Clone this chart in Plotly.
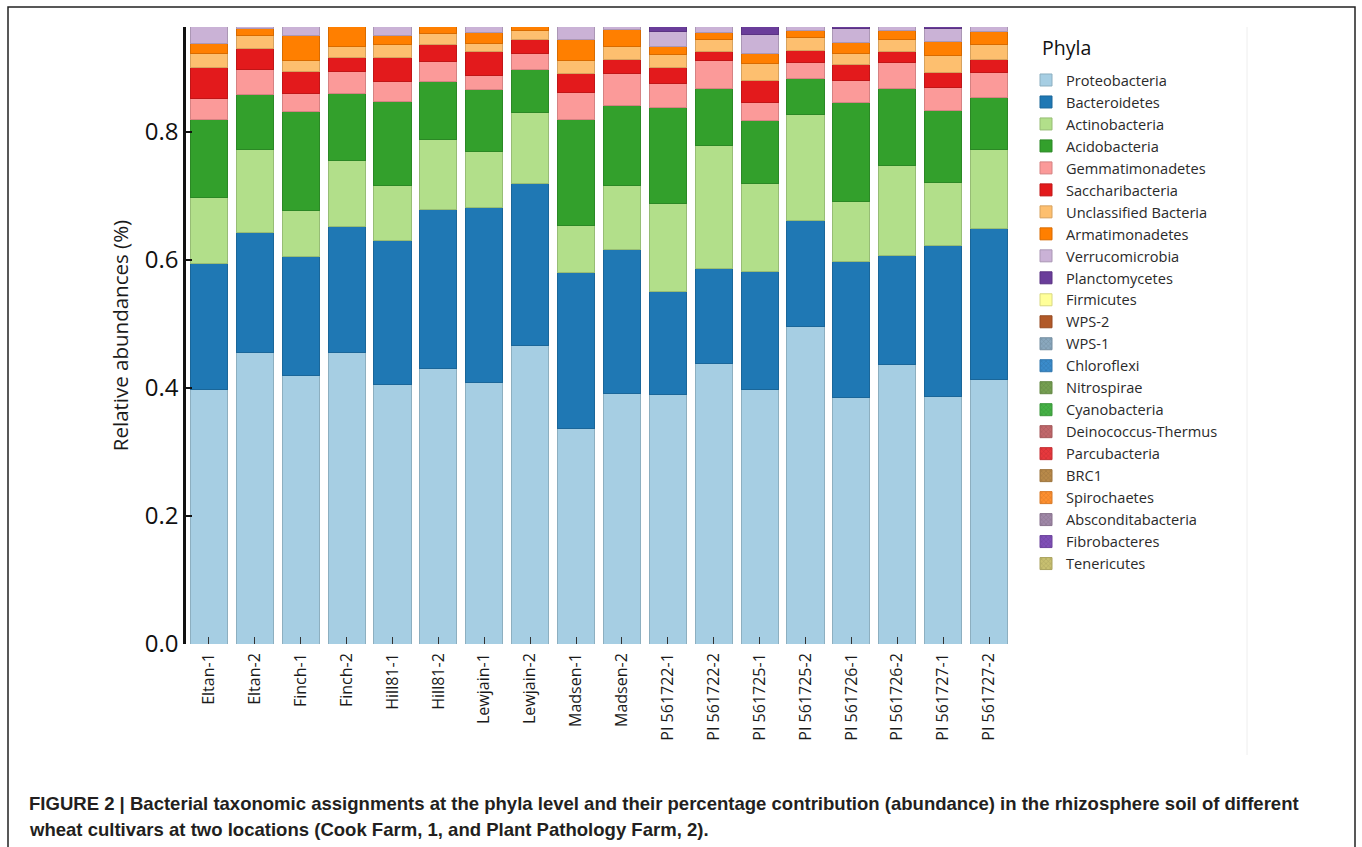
import plotly.graph_objects as go

# Samples: wheat cultivar, location (1 = Cook Farm, 2 = Plant Pathology Farm)
samples = ["Eltan-1", "Eltan-2", "Finch-1", "Finch-2", "Hill81-1", "Hill81-2",
           "Lewjain-1", "Lewjain-2", "Madsen-1", "Madsen-2",
           "PI 561722-1", "PI 561722-2", "PI 561725-1", "PI 561725-2",
           "PI 561726-1", "PI 561726-2", "PI 561727-1", "PI 561727-2"]

# Relative abundance of each phylum per sample
proteobacteria = [0.398, 0.456, 0.419, 0.455, 0.406, 0.430, 0.409, 0.466, 0.336,
                  0.392, 0.390, 0.439, 0.397, 0.496, 0.385, 0.436, 0.386, 0.414]
bacteroidetes = [0.197, 0.187, 0.186, 0.198, 0.225, 0.249, 0.273, 0.253, 0.244,
                 0.225, 0.160, 0.148, 0.185, 0.165, 0.212, 0.171, 0.236, 0.235]
actinobacteria = [0.103, 0.130, 0.073, 0.102, 0.085, 0.110, 0.088, 0.112, 0.074,
                  0.099, 0.139, 0.192, 0.137, 0.166, 0.095, 0.140, 0.099, 0.123]
acidobacteria = [0.122, 0.085, 0.154, 0.105, 0.131, 0.090, 0.096, 0.067, 0.166,
                 0.125, 0.150, 0.089, 0.099, 0.057, 0.154, 0.121, 0.112, 0.082]
gemmatimonadetes = [0.033, 0.039, 0.028, 0.034, 0.032, 0.031, 0.023, 0.025, 0.042,
                    0.051, 0.036, 0.043, 0.028, 0.024, 0.034, 0.040, 0.036, 0.039]
saccharibacteria = [0.047, 0.034, 0.034, 0.023, 0.037, 0.027, 0.036, 0.022, 0.030,
                    0.022, 0.025, 0.014, 0.034, 0.020, 0.025, 0.017, 0.024, 0.021]
unclassified_bacteria = [0.023, 0.019, 0.017, 0.017, 0.020, 0.017, 0.014, 0.014, 0.019,
                         0.020, 0.021, 0.020, 0.027, 0.020, 0.018, 0.020, 0.026, 0.023]
armatimonadetes = [0.016, 0.011, 0.039, 0.031, 0.014, 0.012, 0.016, 0.008, 0.034,
                   0.026, 0.012, 0.010, 0.016, 0.010, 0.017, 0.013, 0.022, 0.020]
verrucomicrobia = [0.028, 0.006, 0.018, 0.004, 0.018, 0.003, 0.013, 0.002, 0.023,
                   0.008, 0.024, 0.012, 0.029, 0.010, 0.022, 0.010, 0.021, 0.010]
planctomycetes = [0.002, 0.001, 0.001, 0.001, 0.001, 0.001, 0.001, 0.001, 0.001,
                  0.001, 0.012, 0.001, 0.015, 0.001, 0.004, 0.001, 0.003, 0.001]
firmicutes = [0.004, 0.003, 0.004, 0.003, 0.004, 0.003, 0.003, 0.003, 0.004,
              0.003, 0.004, 0.003, 0.004, 0.003, 0.004, 0.003, 0.004, 0.003]
wps_2 = [0.003, 0.004, 0.003, 0.003, 0.003, 0.003, 0.003, 0.002, 0.003,
         0.004, 0.003, 0.003, 0.003, 0.002, 0.003, 0.003, 0.003, 0.003]
wps_1 = [0.003, 0.003, 0.002, 0.003, 0.003, 0.002, 0.003, 0.002, 0.003,
         0.003, 0.002, 0.003, 0.002, 0.002, 0.003, 0.003, 0.003, 0.003]
chloroflexi = [0.003, 0.002, 0.003, 0.002, 0.003, 0.002, 0.003, 0.002, 0.003,
               0.002, 0.003, 0.002, 0.003, 0.002, 0.003, 0.002, 0.003, 0.002]
nitrospirae = [0.002, 0.002, 0.002, 0.002, 0.002, 0.002, 0.002, 0.002, 0.002,
               0.002, 0.002, 0.002, 0.002, 0.002, 0.002, 0.002, 0.002, 0.002]
cyanobacteria = [0.002, 0.002, 0.001, 0.002, 0.002, 0.001, 0.002, 0.001, 0.002,
                 0.002, 0.001, 0.002, 0.001, 0.001, 0.002, 0.002, 0.002, 0.002]
deinococcus_thermus = [0.001, 0.001, 0.001, 0.001, 0.001, 0.001, 0.001, 0.001, 0.001,
                       0.001, 0.001, 0.001, 0.001, 0.001, 0.001, 0.001, 0.001, 0.001]
parcubacteria = [0.002, 0.001, 0.002, 0.001, 0.002, 0.001, 0.002, 0.001, 0.002,
                 0.001, 0.002, 0.001, 0.002, 0.001, 0.002, 0.001, 0.002, 0.001]
brc1 = [0.001, 0.001, 0.001, 0.001, 0.001, 0.001, 0.001, 0.001, 0.001,
        0.001, 0.001, 0.001, 0.001, 0.001, 0.001, 0.001, 0.001, 0.001]
spirochaetes = [0.001, 0.001, 0.001, 0.001, 0.001, 0.001, 0.001, 0.001, 0.001,
                0.001, 0.001, 0.001, 0.001, 0.001, 0.001, 0.001, 0.001, 0.001]
absconditabacteria = [0.001, 0.001, 0.001, 0.001, 0.001, 0.001, 0.001, 0.001, 0.001,
                      0.001, 0.001, 0.001, 0.001, 0.001, 0.001, 0.001, 0.001, 0.001]
fibrobacteres = [0.001, 0.001, 0.001, 0.001, 0.001, 0.001, 0.001, 0.001, 0.001,
                 0.001, 0.001, 0.001, 0.001, 0.001, 0.001, 0.001, 0.001, 0.001]
tenericutes = [0.001, 0.001, 0.001, 0.001, 0.001, 0.001, 0.001, 0.001, 0.001,
               0.001, 0.001, 0.001, 0.001, 0.001, 0.001, 0.001, 0.001, 0.001]

# (name, values, fill colour, hatched)
phyla = [
    ("Proteobacteria", proteobacteria, "#a6cee3", False),
    ("Bacteroidetes", bacteroidetes, "#1f78b4", False),
    ("Actinobacteria", actinobacteria, "#b2df8a", False),
    ("Acidobacteria", acidobacteria, "#33a02c", False),
    ("Gemmatimonadetes", gemmatimonadetes, "#fb9a99", False),
    ("Saccharibacteria", saccharibacteria, "#e31a1c", False),
    ("Unclassified Bacteria", unclassified_bacteria, "#fdbf6f", False),
    ("Armatimonadetes", armatimonadetes, "#ff7f00", False),
    ("Verrucomicrobia", verrucomicrobia, "#cab2d6", False),
    ("Planctomycetes", planctomycetes, "#6a3d9a", False),
    ("Firmicutes", firmicutes, "#ffff99", False),
    ("WPS-2", wps_2, "#b15928", False),
    ("WPS-1", wps_1, "#8aa8be", True),
    ("Chloroflexi", chloroflexi, "#3a8ccc", True),
    ("Nitrospirae", nitrospirae, "#76a052", True),
    ("Cyanobacteria", cyanobacteria, "#45b245", True),
    ("Deinococcus-Thermus", deinococcus_thermus, "#c2686c", True),
    ("Parcubacteria", parcubacteria, "#e8383d", True),
    ("BRC1", brc1, "#b98a4a", True),
    ("Spirochaetes", spirochaetes, "#ff9030", True),
    ("Absconditabacteria", absconditabacteria, "#a088a8", True),
    ("Fibrobacteres", fibrobacteres, "#8050b8", True),
    ("Tenericutes", tenericutes, "#c8c070", True),
]


def darker(hex_color, f=0.85):
    h = hex_color.lstrip("#")
    r, g, b = (int(h[i:i + 2], 16) for i in (0, 2, 4))
    return "#{:02x}{:02x}{:02x}".format(int(r * f), int(g * f), int(b * f))


fig = go.Figure()
for name, vals, color, hatched in phyla:
    marker = dict(color=color, line=dict(color=darker(color), width=1))
    if hatched:
        marker["pattern"] = dict(shape="x", size=4, solidity=0.25,
                                 fillmode="overlay", fgcolor=darker(color, 0.7),
                                 fgopacity=0.6)
    fig.add_trace(go.Bar(x=samples, y=vals, name=name, marker=marker))

W, H = 1362, 847
L, R, T, B = 186, 350, 27, 203
pw, ph = W - L - R, H - T - B


def px_x(px):
    return (px - L) / pw


def px_y(py):
    return (H - B - py) / ph


caption_font = dict(family="Liberation Sans", size=18.55, color="#231f20")

fig.update_layout(
    width=W, height=H, autosize=False,
    margin=dict(l=L, r=R, t=T, b=B),
    barmode="stack", bargap=0.19,
    plot_bgcolor="white", paper_bgcolor="white",
    font=dict(family="Open Sans", color="#1a1a1a"),
    legend=dict(
        traceorder="normal",
        x=px_x(1026), xanchor="left",
        y=px_y(64), yanchor="top",
        font=dict(size=14.6, color="#2a2a2a"),
        itemwidth=30,
        bgcolor="rgba(0,0,0,0)",
    ),
    xaxis=dict(
        range=[-0.5, 17.5], showline=False, showgrid=False, zeroline=False,
        ticks="inside", ticklen=7, tickwidth=1.3, tickcolor="#333333",
        tickangle=-90, tickfont=dict(size=16, color="#1a1a1a"),
        ticklabelstandoff=5,
    ),
    yaxis=dict(
        range=[0, 0.964], showgrid=False, zeroline=False,
        showline=True, linecolor="#111111", linewidth=2.5,
        ticks="inside", ticklen=6, tickwidth=1.5, tickcolor="#111111",
        tickvals=[0, 0.2, 0.4, 0.6, 0.8],
        ticktext=["0.0", "0.2", "0.4", "0.6", "0.8"],
        tickfont=dict(size=24, color="#111111"),
        title=dict(text="Relative abundances (%)", standoff=11,
                   font=dict(size=20.5, color="#1a1a1a")),
    ),
    shapes=[
        dict(type="rect", xref="paper", yref="paper",
             x0=px_x(8), x1=px_x(1355), y0=px_y(870), y1=px_y(7),
             line=dict(color="#222222", width=1.5), layer="below"),
        dict(type="line", xref="paper", yref="paper",
             x0=px_x(1247), x1=px_x(1247), y0=px_y(755), y1=px_y(27),
             line=dict(color="#eeeeee", width=1), layer="below"),
    ],
    annotations=[
        dict(xref="paper", yref="paper", x=px_x(1040), y=px_y(47),
             xanchor="left", yanchor="middle", showarrow=False,
             text="Phyla", font=dict(family="Open Sans", size=19.5, color="#111111")),
        dict(xref="paper", yref="paper", x=px_x(27), y=px_y(803),
             xanchor="left", yanchor="middle", showarrow=False,
             text="<b>FIGURE 2 | Bacterial taxonomic assignments at the phyla level and "
                  "their percentage contribution (abundance) in the rhizosphere soil of different</b>",
             font=caption_font),
        dict(xref="paper", yref="paper", x=px_x(27), y=px_y(829),
             xanchor="left", yanchor="middle", showarrow=False,
             text="<b>wheat cultivars at two locations (Cook Farm, 1, and Plant Pathology Farm, 2).</b>",
             font=caption_font),
    ],
)

fig.write_html("out.html")
